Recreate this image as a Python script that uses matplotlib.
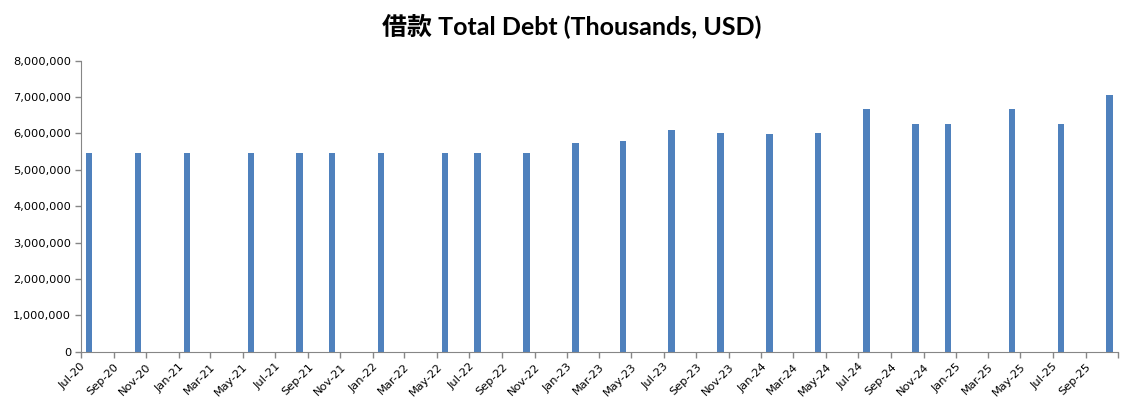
import matplotlib
matplotlib.use("Agg")
import matplotlib.pyplot as plt
import matplotlib.dates as mdates
import matplotlib.ticker as mticker
import pandas as pd
import datetime as dt

# data (month of report, total debt in thousands USD)
months = ["2020-07", "2020-10", "2021-01", "2021-05", "2021-08", "2021-10",
          "2022-01", "2022-05", "2022-07", "2022-10", "2023-01", "2023-04",
          "2023-07", "2023-10", "2024-01", "2024-04", "2024-07", "2024-10",
          "2024-12", "2025-04", "2025-07", "2025-10"]
debt = [5455000, 5455000, 5455000, 5455000, 5455000, 5455000,
        5455000, 5455000, 5455000, 5460000, 5750000, 5780000,
        6100000, 6020000, 5990000, 6020000, 6680000, 6260000,
        6260000, 6680000, 6260000, 7060000]

start = dt.date(2020, 7, 1)
end = dt.date(2025, 11, 1)

# Excel-style month slots: each bar sits in the middle of its month
starts = pd.to_datetime(months, format="%Y-%m")
centers = starts + (starts + pd.offsets.MonthBegin(1) - starts) / 2

fig = plt.figure(figsize=(11.31, 4.05), dpi=100)
ax = fig.add_axes([0.0714, 0.1316, 0.9171, 0.7184])

ax.bar(centers, debt, width=12.3, color="#4F81BD", zorder=2)

ax.set_xlim(start, end)
ax.set_ylim(0, 8000000)
ax.yaxis.set_major_locator(mticker.MultipleLocator(1000000))
ax.yaxis.set_major_formatter(mticker.FuncFormatter(lambda v, p: "{:,.0f}".format(v)))

ax.xaxis.set_major_locator(mdates.MonthLocator(bymonth=(1, 3, 5, 7, 9, 11)))
def fmt_date(v, p):
    d = mdates.num2date(v).date()
    if d >= end:
        return ""
    return d.strftime("%b-%y")
ax.xaxis.set_major_formatter(mticker.FuncFormatter(fmt_date))

for lab in ax.get_xticklabels():
    lab.set_rotation(45)
    lab.set_ha("right")
    lab.set_rotation_mode("anchor")

ax.tick_params(axis="both", direction="out", length=4, width=1, color="#868686",
               labelsize=8.2, labelcolor="#000000", pad=3)
for s in ["top", "right"]:
    ax.spines[s].set_visible(False)
for s in ["left", "bottom"]:
    ax.spines[s].set_color("#868686")

fig.text(0.5055, 0.935, "借款 Total Debt (Thousands, USD)", ha="center", va="center",
         fontsize=18, fontweight="bold", family=["Lato", "Noto Sans CJK SC"])

fig.savefig("out.png", dpi=100)
plt.close()
